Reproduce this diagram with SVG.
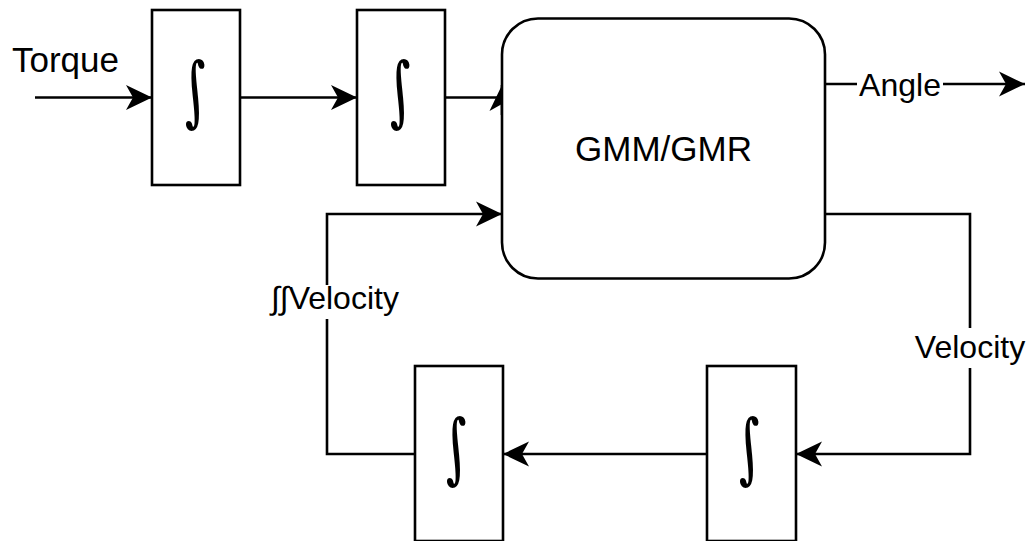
<svg xmlns="http://www.w3.org/2000/svg" width="1027" height="541" viewBox="0 0 1027 541">
<defs>
<marker id="arr" viewBox="0 0 26 26" refX="26" refY="13" markerWidth="26" markerHeight="26" markerUnits="userSpaceOnUse" orient="auto">
<path d="M0,0.5 L26,13 L0,25.5 L7,13 Z" fill="#000"/>
</marker>
<style>
.box{fill:#fff;stroke:#000;stroke-width:2.6}
.ln{fill:none;stroke:#000;stroke-width:2.6}
.lbl{font-family:"Liberation Sans",Arial,sans-serif;font-size:32px;fill:#000}
.big{font-size:35px}
.int{font-family:"DejaVu Serif",serif;font-size:64px;fill:#000}
.bg{fill:#fff;stroke:none}
</style>
</defs>
<rect width="1027" height="541" fill="#fff"/>
<g id="connectors">
<line class="ln" x1="35" y1="97.5" x2="152" y2="97.5" marker-end="url(#arr)"/>
<line class="ln" x1="240" y1="97.5" x2="357" y2="97.5" marker-end="url(#arr)"/>
<polyline class="ln" points="445,97.5 502,97.5"/>
<line class="ln" x1="502" y1="115" x2="502" y2="85" marker-end="url(#arr)"/>
<line class="ln" x1="825" y1="84" x2="1025" y2="84" marker-end="url(#arr)"/>
<polyline class="ln" points="825,214 970,214 970,454 796,454" marker-end="url(#arr)"/>
<line class="ln" x1="707" y1="454" x2="503" y2="454" marker-end="url(#arr)"/>
<polyline class="ln" points="415,454 327,454 327,214 502,214" marker-end="url(#arr)"/>
</g>
<g id="node-int1"><rect class="box" x="152" y="10" width="88" height="175"/><text class="int" transform="translate(195,93) skewX(7) scale(0.85,1.2)" x="0" y="20" text-anchor="middle">∫</text></g>
<g id="node-int2"><rect class="box" x="357" y="10" width="88" height="175"/><text class="int" transform="translate(400,93) skewX(7) scale(0.85,1.2)" x="0" y="20" text-anchor="middle">∫</text></g>
<g id="node-gmm"><rect class="box" x="502" y="18.5" width="323" height="260" rx="36" ry="36"/><text class="lbl big" x="663.5" y="161" text-anchor="middle">GMM/GMR</text></g>
<g id="node-int3"><rect class="box" x="415" y="366" width="88" height="175"/><text class="int" transform="translate(456,450) skewX(7) scale(0.85,1.2)" x="0" y="20" text-anchor="middle">∫</text></g>
<g id="node-int4"><rect class="box" x="707" y="366" width="89" height="175"/><text class="int" transform="translate(749,450) skewX(7) scale(0.85,1.2)" x="0" y="20" text-anchor="middle">∫</text></g>
<g id="labels">
<text class="lbl big" x="12" y="72">Torque</text>
<rect class="bg" x="857" y="66" width="86" height="36"/>
<text class="lbl" x="900" y="96" text-anchor="middle">Angle</text>
<rect class="bg" x="912" y="328" width="114" height="40"/>
<text class="lbl" x="970" y="358" text-anchor="middle">Velocity</text>
<rect class="bg" x="270" y="285" width="130" height="34"/>
<text class="lbl" x="335" y="309" text-anchor="middle">∫∫Velocity</text>
</g>
</svg>
